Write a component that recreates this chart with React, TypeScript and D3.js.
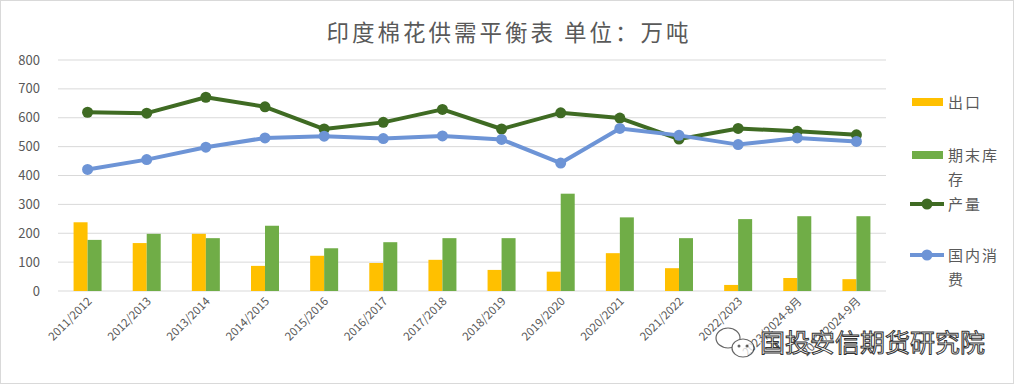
import React from 'react';
import { scaleBand, scaleLinear, line } from 'd3';

// 印度棉花供需平衡表，单位：万吨
const categories = [
	'2011/2012', '2012/2013', '2013/2014', '2014/2015', '2015/2016', '2016/2017', '2017/2018',
	'2018/2019', '2019/2020', '2020/2021', '2021/2022', '2022/2023', '2023/2024-8月', '2023/2024-9月'
];
const exportVals = [238, 166, 198, 87, 122, 97, 108, 73, 67, 131, 79, 21, 45, 41];
const stockVals = [177, 198, 183, 226, 148, 169, 183, 183, 337, 255, 183, 249, 259, 259];
const production = [619, 616, 671, 638, 561, 584, 629, 561, 617, 599, 526, 563, 553, 541];
const consumption = [421, 455, 498, 530, 536, 528, 537, 525, 443, 563, 539, 507, 530, 518];
const yTicks = [0, 100, 200, 300, 400, 500, 600, 700, 800];

const W = 1017;
const H = 385;
const margin = { top: 60, right: 131, bottom: 94, left: 58 };
const font = '"Noto Sans CJK SC", "Noto Sans", sans-serif';
const textColor = '#595959';

export default function App() {
	const w = W - margin.left - margin.right;
	const h = H - margin.top - margin.bottom;

	const x = scaleBand().domain(categories).range([0, w]);
	const y = scaleLinear().domain([0, 800]).range([h, 0]);
	const barW = 14;

	const lineFn = line<number>()
		.x((d, i) => x(categories[i])! + x.bandwidth() / 2)
		.y(d => y(d));

	const legend = [
		{ type: 'bar', color: '#FFC000', lines: ['出口'], y: 102 },
		{ type: 'bar', color: '#70AD47', lines: ['期末库', '存'], y: 155 },
		{ type: 'line', color: '#3F6B23', lines: ['产量'], y: 204 },
		{ type: 'line', color: '#6D94D6', lines: ['国内消', '费'], y: 255 },
	];

	return (
		<div style={{ position: 'absolute', left: 0, top: 0 }}>
			<svg width={W} height={H} style={{ display: 'block', background: '#fff' }}>
				<rect x={0.5} y={0.5} width={W - 4} height={H - 2} fill="#fff" stroke="#d9d9d9" />
				<text x={509} y={41} textAnchor="middle" fontFamily={font} fontSize={22.5}
					letterSpacing={3} fill={textColor}>印度棉花供需平衡表 单位：万吨</text>

				<g transform={`translate(${margin.left},${margin.top})`}>
					{yTicks.map(t => (
						<g key={t}>
							<line x1={0} x2={w} y1={y(t)} y2={y(t)} stroke="#d9d9d9" strokeWidth={1} />
							<text x={-18} y={y(t) + 4.5} textAnchor="end" fontFamily={font} fontSize={13}
								fill={textColor}>{t}</text>
						</g>
					))}

					{categories.map((c, i) => {
						const cx = x(c)! + x.bandwidth() / 2;
						return (
							<g key={c}>
								<rect x={cx - barW} y={y(exportVals[i])} width={barW} height={h - y(exportVals[i])} fill="#FFC000" />
								<rect x={cx} y={y(stockVals[i])} width={barW} height={h - y(stockVals[i])} fill="#70AD47" />
								<text transform={`translate(${cx + 5},${h + 11}) rotate(-45)`} textAnchor="end"
									fontFamily={font} fontSize={11.5} fill={textColor}>{c}</text>
							</g>
						);
					})}

					<path d={lineFn(production)!} fill="none" stroke="#3F6B23" strokeWidth={4} strokeLinejoin="round" />
					{production.map((v, i) => (
						<circle key={'p' + i} cx={x(categories[i])! + x.bandwidth() / 2} cy={y(v)} r={5.5} fill="#3F6B23" />
					))}
					<path d={lineFn(consumption)!} fill="none" stroke="#6D94D6" strokeWidth={4} strokeLinejoin="round" />
					{consumption.map((v, i) => (
						<circle key={'c' + i} cx={x(categories[i])! + x.bandwidth() / 2} cy={y(v)} r={5.5} fill="#6D94D6" />
					))}
				</g>

				{legend.map(l => (
					<g key={l.lines[0]}>
						{l.type === 'bar'
							? <rect x={912} y={l.y - 4} width={31} height={8} fill={l.color} />
							: <g>
								<line x1={910} x2={944} y1={l.y} y2={l.y} stroke={l.color} strokeWidth={4} />
								<circle cx={927} cy={l.y} r={5.5} fill={l.color} />
							</g>}
						{l.lines.map((s, j) => (
							<text key={s} x={948} y={l.y + 6 + j * 24} fontFamily={font} fontSize={15}
								letterSpacing={2} fill={textColor}>{s}</text>
						))}
					</g>
				))}

				{/* watermark */}
				<g opacity={0.75}>
					<ellipse cx={728} cy={338} rx={12} ry={10} fill="#fff" stroke="#333" strokeWidth={1.2} />
					<ellipse cx={743} cy={348} rx={11} ry={9} fill="#fff" stroke="#333" strokeWidth={1.2} />
					<circle cx={739} cy={346} r={1.5} fill="#333" />
					<circle cx={747} cy={346} r={1.5} fill="#333" />
				</g>
				<text x={760} y={352} fontFamily={font} fontSize={25} fill="#fff" stroke="#333"
					strokeWidth={1} letterSpacing={0}>国投安信期货研究院</text>
			</svg>
		</div>
	);
}
